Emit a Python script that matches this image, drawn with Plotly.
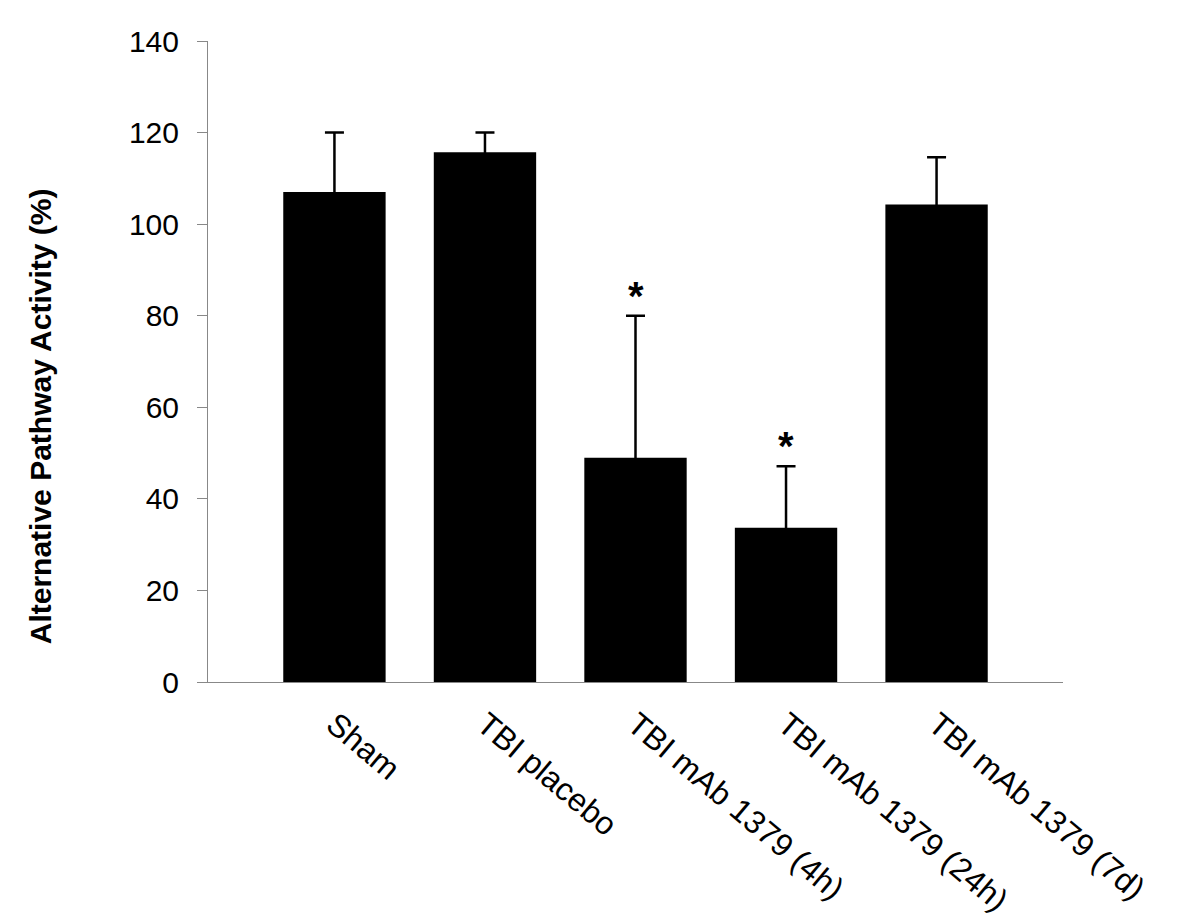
import plotly.graph_objects as go

categories = ["Sham", "TBI placebo", "TBI mAb 1379 (4h)", "TBI mAb 1379 (24h)", "TBI mAb 1379 (7d)"]
means = [107.0, 115.7, 49.0, 33.7, 104.3]
errors_up = [13.0, 4.3, 31.0, 13.4, 10.3]
significant = [False, False, True, True, False]
y_ticks = [0, 20, 40, 60, 80, 100, 120, 140]

FONT = "Liberation Sans, Arial, sans-serif"
xs = list(range(len(categories)))

fig = go.Figure()
fig.add_trace(go.Bar(
    x=xs, y=means, width=0.68,
    marker=dict(color="black", line=dict(width=0)),
    error_y=dict(type="data", symmetric=True, array=errors_up,
                 color="black", thickness=2.5, width=9.5),
    showlegend=False,
))

for i, (m, e, s) in enumerate(zip(means, errors_up, significant)):
    if s:
        fig.add_annotation(x=i, y=m + e, text="<b>*</b>", showarrow=False,
                           xref="x", yref="y", yanchor="bottom", yshift=-4,
                           font=dict(family=FONT, size=40, color="black"))

fig.add_annotation(text="<b>Alternative Pathway Activity (%)</b>", textangle=-90,
                   xref="paper", yref="paper", x=-0.195, y=0.415,
                   xanchor="center", yanchor="middle", showarrow=False,
                   font=dict(family=FONT, size=30, color="black"))

fig.update_layout(
    width=1200, height=918,
    margin=dict(l=208, r=137, t=41, b=236, autoexpand=False),
    paper_bgcolor="white", plot_bgcolor="white",
    font=dict(family=FONT, color="black"),
    xaxis=dict(range=[-0.84, 4.84], tickmode="array", tickvals=xs,
               ticktext=categories, tickangle=40, showline=True,
               linecolor="#888888", linewidth=1, ticks="", showgrid=False,
               zeroline=False, ticklabelstandoff=10, automargin=False,
               tickfont=dict(family=FONT, size=32, color="black")),
    yaxis=dict(range=[0, 140], tickmode="array", tickvals=y_ticks,
               showline=True, linecolor="#888888", linewidth=1,
               ticks="outside", ticklen=10, tickcolor="#888888",
               showgrid=False, zeroline=False, ticklabelstandoff=12,
               automargin=False,
               tickfont=dict(family=FONT, size=30, color="black")),
)

fig.write_html("out.html", config={"displayModeBar": False},
               post_script="document.body.style.margin='0';document.body.style.overflow='hidden';")
